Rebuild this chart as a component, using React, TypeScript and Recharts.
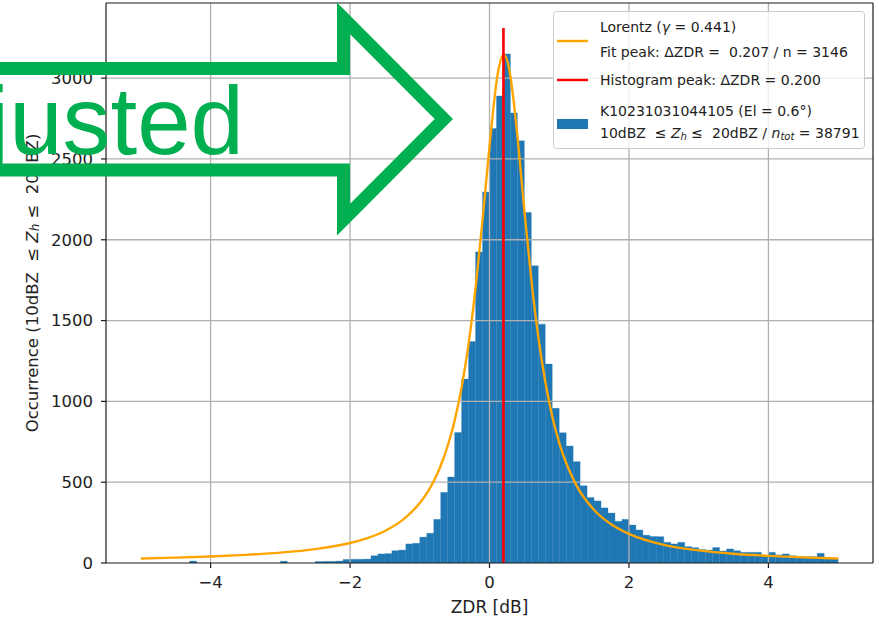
import React from 'react';
import { ComposedChart, Bar, Line, XAxis, YAxis, ReferenceLine, Legend, Label } from 'recharts';

// histogram bins (0.1 dB wide) – centres
const binCenters = [
  -4.95, -4.85, -4.75, -4.65, -4.55, -4.45, -4.35, -4.25, -4.15, -4.05,
  -3.95, -3.85, -3.75, -3.65, -3.55, -3.45, -3.35, -3.25, -3.15, -3.05,
  -2.95, -2.85, -2.75, -2.65, -2.55, -2.45, -2.35, -2.25, -2.15, -2.05,
  -1.95, -1.85, -1.75, -1.65, -1.55, -1.45, -1.35, -1.25, -1.15, -1.05,
  -0.95, -0.85, -0.75, -0.65, -0.55, -0.45, -0.35, -0.25, -0.15, -0.05,
  0.05, 0.15, 0.25, 0.35, 0.45, 0.55, 0.65, 0.75, 0.85, 0.95,
  1.05, 1.15, 1.25, 1.35, 1.45, 1.55, 1.65, 1.75, 1.85, 1.95,
  2.05, 2.15, 2.25, 2.35, 2.45, 2.55, 2.65, 2.75, 2.85, 2.95,
  3.05, 3.15, 3.25, 3.35, 3.45, 3.55, 3.65, 3.75, 3.85, 3.95,
  4.05, 4.15, 4.25, 4.35, 4.45, 4.55, 4.65, 4.75, 4.85, 4.95,
];

// occurrence per bin
const binCounts = [
  0, 0, 0, 0, 0, 0, 0, 12, 0, 0,
  0, 0, 0, 0, 0, 0, 0, 0, 0, 0,
  11, 0, 0, 0, 0, 9, 10, 10, 12, 22,
  23, 23, 24, 45, 56, 58, 76, 80, 118, 122,
  160, 184, 270, 437, 532, 808, 1138, 1370, 1925, 2296,
  2688, 2890, 3150, 2785, 2612, 2169, 1839, 1478, 1231, 957,
  806, 724, 627, 478, 405, 384, 341, 309, 258, 270,
  235, 204, 172, 164, 163, 128, 118, 128, 101, 95,
  84, 80, 96, 74, 87, 76, 66, 66, 66, 45,
  66, 50, 56, 45, 39, 39, 39, 60, 35, 29,
];

// Lorentz fit curve
const fitX = [
  -5, -4.5, -4, -3.5, -3, -2.5, -2, -1.75, -1.5, -1.25, -1,
  -0.9, -0.8, -0.7, -0.6, -0.5, -0.4, -0.3, -0.2, -0.1, -0.05,
  0, 0.05, 0.1, 0.15, 0.2, 0.25, 0.3, 0.35, 0.4, 0.45, 0.5,
  0.6, 0.7, 0.8, 0.9, 1, 1.25, 1.5, 1.75, 2, 2.5, 3, 3.5, 4, 4.5, 5,
];
const fitY = [
  28, 33, 40, 50, 64, 86, 124, 154, 198, 265, 371,
  431, 506, 602, 724, 881, 1087, 1356, 1700, 2120, 2350,
  2578, 2790, 2976, 3095, 3145, 3115, 3010, 2845, 2645, 2415, 2180,
  1754, 1399, 1121, 907, 743, 477, 328, 238, 180, 112, 78, 57, 44, 35, 28,
];

const histPeak = 0.2;
const histPeakTop = 3310;

const xTicks = [-4, -2, 0, 2, 4];
const yTicks = [0, 500, 1000, 1500, 2000, 2500, 3000];
const X_DOMAIN: [number, number] = [-5.5, 5.5];
const Y_DOMAIN: [number, number] = [0, 3465];

const histData = binCenters.map((x, i) => ({ x, count: binCounts[i] }));
const fitData = fitX.map((x, i) => ({ x, y: fitY[i] }));

const FONT = 'DejaVu Sans';
const TEXT = '#222';
const GRID = '#b0b0b0';
const SPINE = '#1a1a1a';

const fmt = (v: number) => (v < 0 ? `\u2212${-v}` : `${v}`);

const YLabel = (props: any) => {
  const vb = props.viewBox;
  const cx = vb.x + 32;
  const cy = vb.y + vb.height / 2;
  return (
    <text
      x={cx}
      y={cy}
      transform={`rotate(-90, ${cx}, ${cy})`}
      textAnchor="middle"
      dominantBaseline="central"
      fontSize={16.5}
      fontFamily={FONT}
      fill={TEXT}
      style={{ whiteSpace: 'pre' }}
    >
      Occurrence (10dBZ  ≤ <tspan fontStyle="italic">Z</tspan>
      <tspan fontStyle="italic" fontSize={12} dy={3}>h</tspan>
      <tspan dy={-3}> ≤  20dBZ)</tspan>
    </text>
  );
};

const LegendBox = () => {
  const t = { fontSize: 14, fontFamily: FONT, fill: TEXT, dominantBaseline: 'central' as const, style: { whiteSpace: 'pre' as const } };
  return (
    <svg width={312} height={138} style={{ display: 'block' }}>
      <rect x={0.5} y={0.5} width={311} height={137} rx={3} fill="#fff" fillOpacity={0.8} stroke="#cccccc" />
      <line x1={4} x2={35} y1={30} y2={30} stroke="orange" strokeWidth={2.4} />
      <text x={47} y={16} {...t}>
        Lorentz (<tspan fontStyle="italic">γ</tspan> = 0.441)
      </text>
      <text x={47} y={41} {...t}>Fit peak: ΔZDR =  0.207 / n = 3146</text>
      <line x1={4} x2={35} y1={69} y2={69} stroke="red" strokeWidth={2.4} />
      <text x={47} y={69} {...t}>Histogram peak: ΔZDR = 0.200</text>
      <rect x={4} y={108} width={31} height={10} fill="#1f77b4" />
      <text x={47} y={100} {...t}>K10231031044105 (El = 0.6°)</text>
      <text x={47} y={122} {...t}>
        10dBZ  ≤ <tspan fontStyle="italic">Z</tspan>
        <tspan fontStyle="italic" fontSize={10} dy={3}>h</tspan>
        <tspan dy={-3}> ≤  20dBZ / </tspan>
        <tspan fontStyle="italic">n</tspan>
        <tspan fontStyle="italic" fontSize={10} dy={3}>tot</tspan>
        <tspan dy={-3}> = 38791</tspan>
      </text>
    </svg>
  );
};

const Overlay = () => (
  <svg
    width={879}
    height={623}
    style={{ position: 'absolute', left: 0, top: 0, pointerEvents: 'none' }}
  >
    <polygon
      points="-20,68.5 343.5,68.5 343.5,18.3 443.8,119 343.5,219.7 343.5,170 -20,170"
      fill="none"
      stroke="#00B050"
      strokeWidth={13}
      strokeMiterlimit={10}
    />
    <text x={244} y={154} textAnchor="end" fontFamily="Liberation Sans" fontSize={96} fill="#00B050">
      Adjusted
    </text>
  </svg>
);

const App = () => {
  const axisTick = { fontSize: 16.5, fontFamily: FONT, fill: TEXT };
  return (
    <div style={{ position: 'absolute', left: 0, top: 0, width: 879, height: 623, background: '#fff' }}>
      <ComposedChart
        width={879}
        height={623}
        data={histData}
        margin={{ top: 3, right: 6, bottom: 0, left: 0 }}
        barCategoryGap={0}
        barGap={0}
        style={{ fontFamily: FONT }}
      >
        <XAxis
          xAxisId="main"
          dataKey="x"
          type="number"
          domain={X_DOMAIN}
          ticks={xTicks}
          tickFormatter={fmt}
          allowDataOverflow
          height={60}
          tickSize={5}
          tickMargin={8}
          tick={axisTick}
          stroke={SPINE}
          strokeWidth={1.2}
        >
          <Label value="ZDR [dB]" position="insideBottom" offset={10} fontSize={17} fontFamily={FONT} fill={TEXT} />
        </XAxis>
        <XAxis xAxisId="fit" dataKey="x" type="number" domain={X_DOMAIN} allowDataOverflow hide height={0} />
        <YAxis
          type="number"
          domain={Y_DOMAIN}
          ticks={yTicks}
          allowDataOverflow
          width={106}
          tickSize={5}
          tickMargin={8}
          tick={axisTick}
          stroke={SPINE}
          strokeWidth={1.2}
          label={<YLabel />}
        />
        <Bar
          xAxisId="main"
          dataKey="count"
          fill="#1f77b4"
          stroke="#1f77b4"
          strokeWidth={0.3}
          barSize={6.96}
          isAnimationActive={false}
        />
        {xTicks.map((v) => (
          <ReferenceLine key={`gx${v}`} xAxisId="main" x={v} stroke={GRID} strokeWidth={1.3} />
        ))}
        {yTicks.slice(1).map((v) => (
          <ReferenceLine key={`gy${v}`} xAxisId="main" y={v} stroke={GRID} strokeWidth={1.3} />
        ))}
        <Line
          xAxisId="fit"
          data={fitData}
          dataKey="y"
          type="monotone"
          stroke="orange"
          strokeWidth={2.4}
          dot={false}
          isAnimationActive={false}
        />
        <ReferenceLine
          xAxisId="main"
          segment={[
            { x: histPeak, y: 0 },
            { x: histPeak, y: histPeakTop },
          ]}
          stroke="red"
          strokeWidth={2.6}
        />
        {/* top and right spines */}
        <ReferenceLine xAxisId="main" y={Y_DOMAIN[1]} stroke={SPINE} strokeWidth={1.2} />
        <ReferenceLine xAxisId="main" x={X_DOMAIN[1]} stroke={SPINE} strokeWidth={1.2} />
        <Legend
          content={<LegendBox />}
          layout="vertical"
          align="center"
          verticalAlign="middle"
          wrapperStyle={{ left: 553, top: 11, width: 312, height: 138 }}
        />
      </ComposedChart>
      <Overlay />
    </div>
  );
};

export default App;
